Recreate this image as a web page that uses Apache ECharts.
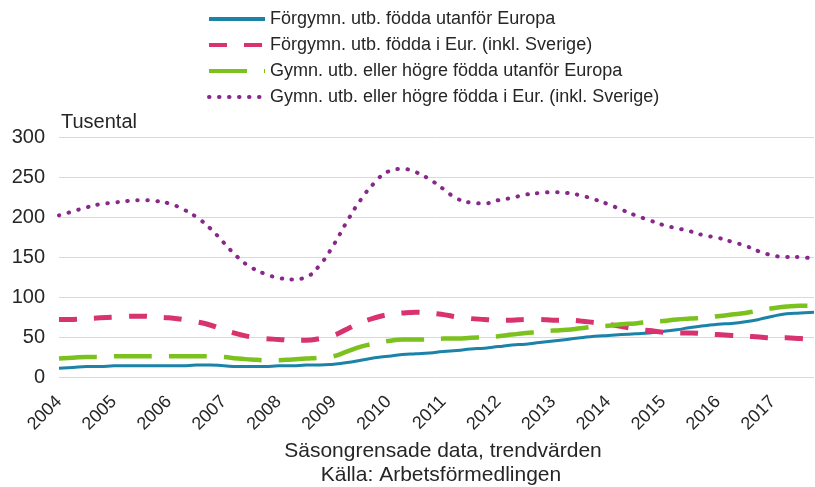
<!DOCTYPE html>
<html>
<head>
<meta charset="utf-8">
<script src="https://cdn.jsdelivr.net/npm/echarts@6/dist/echarts.min.js"></script>
<style>
  html, body { margin: 0; padding: 0; background: #fff; }
  #chart { width: 815px; height: 487px; }
</style>
</head>
<body>
<div id="chart"></div>
<script>
  // quarterly data 2004 K1 - 2017 K4, tusental
  var years = ['2004', '2005', '2006', '2007', '2008', '2009', '2010', '2011', '2012', '2013', '2014', '2015', '2016', '2017'];
  var yTicks = [0, 50, 100, 150, 200, 250, 300];

  var forgymnUtanfor = [
    11, 12, 13, 13,  14, 14, 14, 14,  14, 14, 15, 15,  14, 13, 13, 13,
    14, 14, 15, 15,  16, 18, 21, 24,  26, 28, 29, 30,  32, 33, 35, 36,
    38, 40, 41, 43,  45, 47, 49, 51,  52, 53, 54, 55,  57, 59, 62, 64,
    66, 67, 69, 72,  76, 79, 80, 81
  ];
  var forgymnEur = [
    72, 72, 73, 74,  75, 76, 76, 75,  74, 72, 69, 65,  59, 54, 50, 48,
    47, 46, 46, 48,  52, 60, 68, 74,  78, 80, 81, 80,  78, 75, 73, 72,
    71, 71, 72, 72,  71, 71, 70, 68,  66, 63, 60, 58,  56, 55, 55, 54,
    53, 52, 51, 50,  49, 49, 48, 47
  ];
  var gymnUtanfor = [
    23, 24, 25, 25,  26, 26, 26, 26,  26, 26, 26, 26,  25, 23, 22, 21,
    21, 22, 23, 24,  26, 32, 38, 42,  45, 47, 47, 47,  48, 48, 49, 50,
    51, 53, 55, 56,  58, 59, 61, 63,  64, 66, 67, 69,  70, 72, 73, 74,
    76, 78, 80, 83,  86, 88, 89, 89
  ];
  var gymnEur = [
    202, 207, 212, 216,  218, 220, 221, 220,  217, 210, 200, 186,  168, 150, 137, 129,
    124, 122, 125, 140,  165, 195, 222, 243,  257, 260, 256, 247,  235, 223, 218, 217,
    221, 224, 228, 230,  231, 230, 227, 222,  216, 209, 202, 196,  190, 186, 182, 177,
    174, 169, 164, 157,  152, 150, 150, 147
  ];

  var quarters = [];
  years.forEach(function (y) {
    for (var q = 1; q <= 4; q++) quarters.push(y + ' K' + q);
  });

  var font = 'Liberation Sans, Arial, sans-serif';
  var chart = echarts.init(document.getElementById('chart'));

  var option = {
    animation: false,
    textStyle: { fontFamily: font, color: '#262626' },
    legend: {
      orient: 'vertical',
      left: 207,
      top: 10,
      padding: 0,
      itemWidth: 56,
      itemHeight: 14,
      itemGap: 8,
      itemStyle: { opacity: 0 },
      lineStyle: { width: 4 },
      textStyle: { fontSize: 18, color: '#262626', fontFamily: font },
      data: [
        'Förgymn. utb. födda utanför Europa',
        'Förgymn. utb. födda i Eur. (inkl. Sverige)',
        'Gymn. utb. eller högre födda utanför Europa',
        'Gymn. utb. eller högre födda i Eur. (inkl. Sverige)'
      ]
    },
    grid: { left: 59, right: 1, top: 137, bottom: 110 },
    graphic: [
      { type: 'text', x: 61, y: 112, style: { text: 'Tusental', fill: '#262626', font: '20px ' + font } },
      { type: 'text', x: 443, y: 441, style: { text: 'Säsongrensade data, trendvärden', textAlign: 'center', fill: '#262626', font: '21px ' + font } },
      { type: 'text', x: 441, y: 465, style: { text: 'Källa: Arbetsförmedlingen', textAlign: 'center', fill: '#262626', font: '21px ' + font } }
    ],
    xAxis: {
      type: 'category',
      boundaryGap: false,
      data: quarters,
      axisLine: { show: false },
      axisTick: { show: false },
      axisLabel: {
        interval: 3,
        rotate: 45,
        margin: 22,
        fontSize: 18,
        color: '#262626',
        formatter: function (v) { return v.slice(0, 4); }
      }
    },
    yAxis: {
      type: 'value',
      min: yTicks[0],
      max: yTicks[yTicks.length - 1],
      interval: 50,
      axisLabel: { fontSize: 20, color: '#262626', margin: 14 },
      splitLine: { lineStyle: { color: '#d9d9d9', width: 1 } }
    },
    series: [
      {
        name: 'Förgymn. utb. födda utanför Europa',
        type: 'line', smooth: true, symbol: 'none',
        data: forgymnUtanfor,
        itemStyle: { color: '#1b82a8' },
        lineStyle: { color: '#1b82a8', width: 3 }
      },
      {
        name: 'Förgymn. utb. födda i Eur. (inkl. Sverige)',
        type: 'line', smooth: true, symbol: 'none',
        data: forgymnEur,
        itemStyle: { color: '#d8336f' },
        lineStyle: { color: '#d8336f', width: 5, type: [18, 17] }
      },
      {
        name: 'Gymn. utb. eller högre födda utanför Europa',
        type: 'line', smooth: true, symbol: 'none',
        data: gymnUtanfor,
        itemStyle: { color: '#7cc21e' },
        lineStyle: { color: '#7cc21e', width: 4.5, type: [38, 17] }
      },
      {
        name: 'Gymn. utb. eller högre födda i Eur. (inkl. Sverige)',
        type: 'line', smooth: true, symbol: 'none',
        data: gymnEur,
        itemStyle: { color: '#87288a' },
        lineStyle: { color: '#87288a', width: 4, type: [0.5, 9.5], cap: 'round' }
      }
    ]
  };

  chart.setOption(option);
</script>
</body>
</html>
